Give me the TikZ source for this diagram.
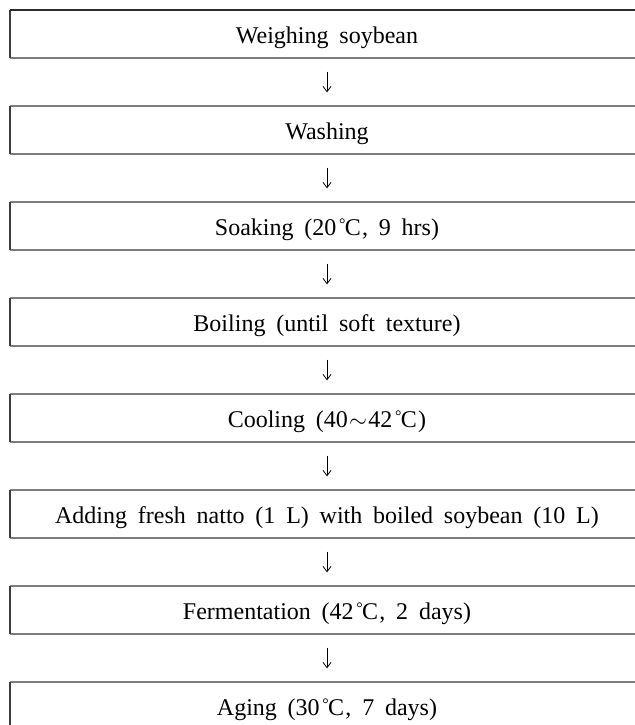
\documentclass[tikz,border=0pt]{standalone}
\usepackage{fontspec}
\setmainfont{Liberation Serif}
\usetikzlibrary{arrows.meta}
\tikzset{>={Straight Barb[length=4pt,width=6pt]}}
\definecolor{ruleColour}{RGB}{125,125,125}
\definecolor{sideColour}{RGB}{60,60,60}
\definecolor{topColour}{RGB}{45,45,45}
\newcommand{\degC}{\kern2pt\raisebox{0.22em}{\fontsize{12}{12}\selectfont °}\kern-0.5pt C\kern1pt}
\newcommand{\wave}{\kern1pt$\mathord{\sim}$\kern1pt}
\newcommand{\stepfont}{\fontsize{18}{22}\selectfont\spaceskip=0.45em\relax}
\tikzset{
  stepnode/.style={inner sep=0pt, minimum height=36pt, text height=17pt,
    text depth=3.5pt, font=\stepfont},
  ruleline/.style={draw=ruleColour, line width=1.2pt},
  sideline/.style={draw=sideColour, line width=1.2pt},
  flowarrow/.style={->, line width=0.6pt, shorten <=10pt, shorten >=10pt}
}

\begin{document}
\begin{tikzpicture}[x=0.75pt, y=-0.75pt]
		\useasboundingbox (0, 0) rectangle (635, 725);
		\clip (0, 0) rectangle (635, 725);

		% frame edges
		\coordinate (lft) at (10, 0);
		\coordinate (rgt) at (644, 0);

		% the steps
		\node[stepnode] (weigh) at (327, 34) {Weighing soybean};
		\node[stepnode] (wash)  at (327, 130) {Washing};
		\node[stepnode] (soak)  at (327, 226) {Soaking (20\degC, 9 hrs)};
		\node[stepnode] (boil)  at (327, 322) {Boiling (until soft texture)};
		\node[stepnode] (cool)  at (327, 418) {Cooling (40\wave42\degC)};
		\node[stepnode] (inoc)  at (327, 514) {Adding fresh natto (1 L) with boiled soybean (10 L)};
		\node[stepnode] (ferm)  at (327, 610) {Fermentation (42\degC, 2 days)};
		\node[stepnode] (age)   at (327, 706) {Aging (30\degC, 7 days)};

		% boxes round the steps
		\foreach \s in {weigh, wash, soak, boil, cool, inoc, ferm, age} {
			\draw[ruleline] (rgt |- \s.north) -- (lft |- \s.north);
			\draw[ruleline] (lft |- \s.south) -- (rgt |- \s.south);
			\draw[sideline] (lft |- \s.north) -- (lft |- \s.south);
		}
		\draw[draw=topColour, line width=1.4pt] (lft |- weigh.north) -- (rgt |- weigh.north);

		% arrows between the steps
		\draw[flowarrow] (weigh) -- (wash);
		\draw[flowarrow] (wash) -- (soak);
		\draw[flowarrow] (soak) -- (boil);
		\draw[flowarrow] (boil) -- (cool);
		\draw[flowarrow] (cool) -- (inoc);
		\draw[flowarrow] (inoc) -- (ferm);
		\draw[flowarrow] (ferm) -- (age);
	\end{tikzpicture}
\end{document}
